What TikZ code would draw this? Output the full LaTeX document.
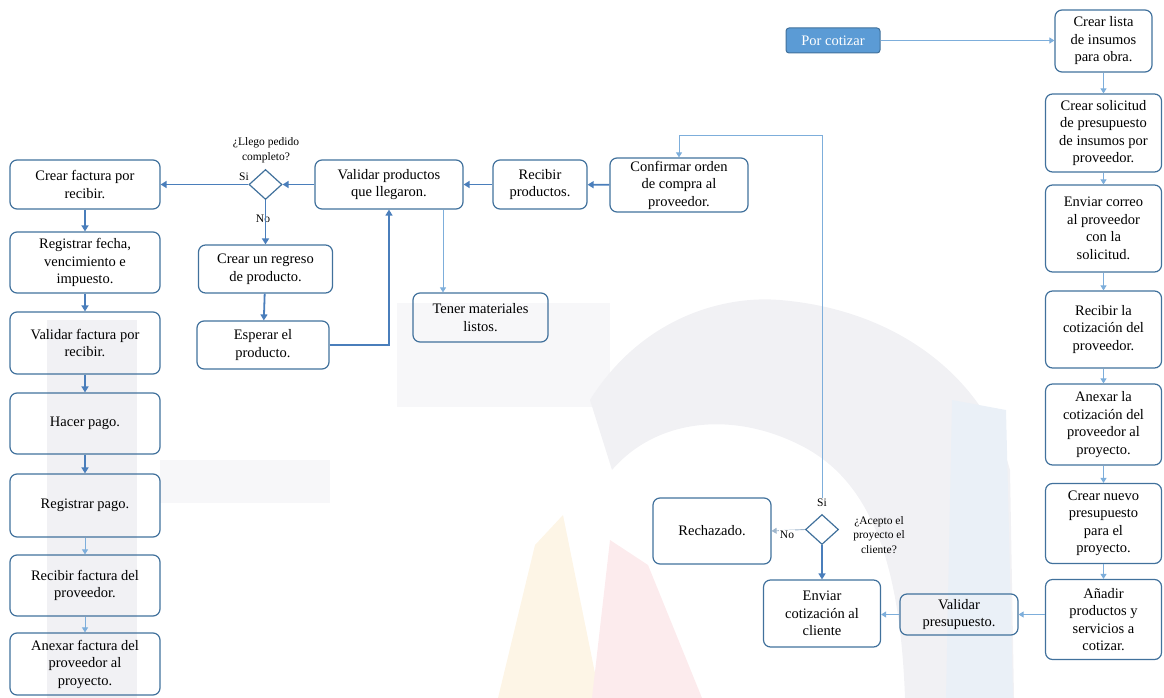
\documentclass[tikz,border=0pt]{standalone}
\usepackage{fontspec}
\setmainfont{Liberation Serif}
\usetikzlibrary{shapes.geometric,arrows.meta}
\definecolor{boxline}{HTML}{41719C}
\definecolor{darkflow}{HTML}{4A7EBB}
\definecolor{lightflow}{HTML}{7DAEDB}
\definecolor{greyflow}{HTML}{9FB6CC}
\definecolor{fillblue}{HTML}{5B9BD5}
\definecolor{wmgrey}{HTML}{F1F1F4}
\definecolor{wmpale}{HTML}{F7F7F9}
\definecolor{wmblue}{HTML}{EAF0F7}
\definecolor{wmorange}{HTML}{FDF5E6}
\definecolor{wmpink}{HTML}{FCEBED}
\begin{document}
\begin{tikzpicture}[x=1pt,y=-1pt,
  stepbox/.style={draw=boxline, line width=1.2pt, rounded corners=7pt, align=center,
    inner sep=2pt, font=\fontsize{14.5}{17.5}\selectfont},
  startbox/.style={draw=boxline, fill=fillblue, line width=1pt, rounded corners=3pt,
    text=white, inner sep=2pt, font=\fontsize{14.5}{17.5}\selectfont},
  decision/.style={draw=boxline, line width=1.2pt, diamond, inner sep=0pt,
    minimum width=33pt, minimum height=30pt},
  note/.style={font=\fontsize{11.5}{14.5}\selectfont, align=center, inner sep=1pt},
  darkarrow/.style={draw=darkflow, line width=1.8pt, -{Triangle[width=7pt,length=6pt]}},
  lightarrow/.style={draw=lightflow, line width=0.9pt, -{Triangle[width=6pt,length=5pt]}},
]
\useasboundingbox (0,0) rectangle (1164,698);

% faint background emblem
\fill[wmgrey] (47,320) rectangle (137,698);
\fill[wmpale] (397,303) rectangle (610,407);
\fill[wmpale] (160,460) rectangle (330,503);
\fill[wmgrey] (590,400) .. controls (640,320) and (720,295) .. (780,300)
  .. controls (900,310) and (985,380) .. (1010,470) -- (1014,698) -- (905,698)
  .. controls (900,560) and (870,480) .. (800,445)
  .. controls (730,410) and (655,420) .. (612,470) -- cycle;
\fill[wmblue] (952,400) -- (1006,410) -- (1013,698) -- (946,698) -- cycle;
\fill[wmorange] (498,698) -- (535,545) -- (563,515) -- (600,698) -- cycle;
\fill[wmpink] (592,698) -- (610,540) -- (648,565) -- (702,698) -- cycle;

% invoice branch
\node[stepbox, minimum width=150pt, minimum height=49pt] (crearfac) at (85,184.5) {Crear factura por\\recibir.};
\node[stepbox, minimum width=150pt, minimum height=61pt] (regfecha) at (85,262.5) {Registrar fecha,\\vencimiento e\\impuesto.};
\node[stepbox, minimum width=150pt, minimum height=62pt] (valfac) at (85,343) {Validar factura por\\recibir.};
\node[stepbox, minimum width=150pt, minimum height=61pt] (hacerpago) at (85,423.5) {Hacer pago.};
\node[stepbox, minimum width=150pt, minimum height=63pt] (regpago) at (85,505.5) {Registrar pago.};
\node[stepbox, minimum width=150pt, minimum height=61pt] (recfac) at (85,585.5) {Recibir factura del\\proveedor.};
\node[stepbox, minimum width=150pt, minimum height=62pt] (anexfac) at (85,664) {Anexar factura del\\proveedor al\\proyecto.};

% reception branch
\node[decision] (d1) at (265.5,184.5) {};
\node[note] (q1) at (266,150) {¿Llego pedido\\completo?};
\node[note] (si1) at (244,177) {Si};
\node[note] (no1) at (263,219) {No};
\node[stepbox, minimum width=134pt, minimum height=48pt] (regreso) at (265.5,269) {Crear un regreso\\de producto.};
\node[stepbox, minimum width=132pt, minimum height=48pt] (esperar) at (263,345) {Esperar el\\producto.};
\node[stepbox, minimum width=148pt, minimum height=49pt] (valprod) at (389,184.5) {Validar productos\\que llegaron.};
\node[stepbox, minimum width=94pt, minimum height=49pt] (recprod) at (540,184.5) {Recibir\\productos.};
\node[stepbox, minimum width=138pt, minimum height=54pt] (confirmar) at (679,185) {Confirmar orden\\de compra al\\proveedor.};
\node[stepbox, minimum width=135pt, minimum height=49pt] (tener) at (480.5,317.5) {Tener materiales\\listos.};

% quotation branch
\node[startbox, minimum width=94pt, minimum height=25pt] (porcot) at (833,40.5) {Por cotizar};
\node[stepbox, minimum width=97pt, minimum height=62pt] (lista) at (1103.5,41) {Crear lista\\de insumos\\para obra.};
\node[stepbox, minimum width=116pt, minimum height=78pt] (solicitud) at (1103.5,133) {Crear solicitud\\de presupuesto\\de insumos por\\proveedor.};
\node[stepbox, minimum width=116pt, minimum height=87pt] (correo) at (1103.5,228.5) {Enviar correo\\al proveedor\\con la\\solicitud.};
\node[stepbox, minimum width=116pt, minimum height=77pt] (recibircot) at (1103.5,329.5) {Recibir la\\cotización del\\proveedor.};
\node[stepbox, minimum width=116pt, minimum height=81pt] (anexcot) at (1103.5,424.5) {Anexar la\\cotización del\\proveedor al\\proyecto.};
\node[stepbox, minimum width=116pt, minimum height=80pt] (nuevo) at (1103.5,523.5) {Crear nuevo\\presupuesto\\para el\\proyecto.};
\node[stepbox, minimum width=116pt, minimum height=80pt] (anadir) at (1103.5,619.5) {Añadir\\productos y\\servicios a\\cotizar.};
\node[stepbox, minimum width=118pt, minimum height=41pt] (valpres) at (959,614.5) {Validar\\presupuesto.};
\node[stepbox, minimum width=117pt, minimum height=67pt] (enviar) at (822,613.5) {Enviar\\cotización al\\cliente};
\node[decision] (d2) at (822,529.5) {};
\node[note] (q2) at (879,535) {¿Acepto el\\proyecto el\\cliente?};
\node[note] (si2) at (822,503) {Si};
\node[stepbox, minimum width=118pt, minimum height=66pt] (rech) at (712,531) {Rechazado.};
\coordinate (loop) at (822,135);

% connectors: invoice branch
\draw[darkarrow] (crearfac) -- (regfecha);
\draw[darkarrow] (regfecha) -- (valfac);
\draw[darkarrow] (valfac) -- (hacerpago);
\draw[darkarrow] (hacerpago) -- (regpago);
\draw[lightarrow] (regpago) -- (recfac);
\draw[lightarrow] (recfac) -- (anexfac);

% connectors: reception branch
\draw[darkarrow] (d1.west) -- (crearfac.east);
\draw[darkarrow] (valprod.west) -- (d1.east);
\draw[darkarrow] (d1.south) -- (regreso.north);
\draw[darkarrow] (regreso) -- (esperar);
\draw[darkarrow, line width=1.4pt] (esperar.east) -| (valprod.south);
\draw[darkarrow] (recprod) -- (valprod);
\draw[darkarrow] (confirmar) -- (recprod);
\draw[lightarrow] ([xshift=54pt]valprod.south) -- ([xshift=54pt]valprod.south |- tener.north);

% connectors: quotation branch
\draw[lightarrow] (porcot) -- (porcot -| lista.west);
\draw[lightarrow] (lista) -- (solicitud);
\draw[lightarrow] (solicitud) -- (correo);
\draw[lightarrow] (correo) -- (recibircot);
\draw[lightarrow] (recibircot) -- (anexcot);
\draw[lightarrow] (anexcot) -- (nuevo);
\draw[lightarrow] (nuevo) -- (anadir);
\draw[lightarrow] (valpres.east -| anadir.west) -- (valpres.east);
\draw[lightarrow] (valpres.west) -- (valpres.west -| enviar.east);
\draw[darkarrow] (d2.south) -- (enviar.north);
\draw[lightarrow, draw=greyflow] (d2.west) -- (rech.east);
\node[note, fill=white] (no2) at (787,535) {No};
\draw[lightarrow] (si2.north) -- (loop) -| (confirmar.north);

\end{tikzpicture}
\end{document}
